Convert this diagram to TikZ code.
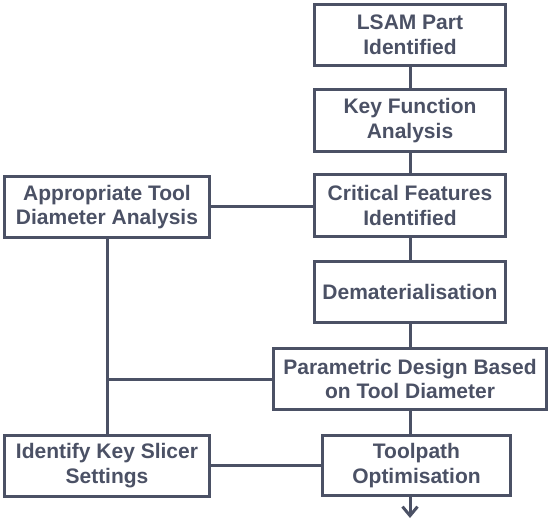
\documentclass[tikz,border=0pt]{standalone}
\usepackage{fontspec}
\setmainfont{Liberation Sans}
\usetikzlibrary{arrows.meta}
\definecolor{slate}{HTML}{4B5165}
\begin{document}
\begin{tikzpicture}[x=1pt,y=-1pt,
  box/.style={draw=slate,line width=3pt,fill=white,text=slate,inner sep=0pt,
    align=center,font=\fontsize{21}{24.5}\selectfont\bfseries},
  conn/.style={draw=slate,line width=3pt}]
\useasboundingbox (0,0) rectangle (551,521);
\node[box,minimum width=191,minimum height=61] (b1) at (410,35) {LSAM Part\\Identified};
\node[box,minimum width=191,minimum height=62] (b2) at (410,120.5) {Key Function\\Analysis};
\node[box,minimum width=191,minimum height=62] (b3) at (410,205.5) {Critical Features\\Identified};
\node[box,minimum width=191,minimum height=61] (b4) at (410,292) {Dematerialisation};
\node[box,minimum width=273,minimum height=61] (b5) at (410,379) {Parametric Design Based\\on Tool Diameter};
\node[box,minimum width=188,minimum height=60] (b6) at (416.5,465.5) {Toolpath\\Optimisation};
\node[box,minimum width=205,minimum height=61] (a) at (107,207) {Appropriate Tool\\Diameter Analysis};
\node[box,minimum width=205,minimum height=61] (b) at (107,465.5) {Identify Key Slicer\\Settings};
\coordinate (j) at (107,379);
\coordinate (end) at (410,518);
\draw[conn] (b1) -- (b2);
\draw[conn] (b2) -- (b3);
\draw[conn] (b3) -- (b4);
\draw[conn] (b4) -- (b5);
\draw[conn] (b5.south) -- (b5.south |- b6.north);
\draw[conn] (a.east) -- (a.east -| b3.west);
\draw[conn] (a.south) -- (b.north);
\draw[conn] (j) -- (b5.west);
\draw[conn] (b.east) -- (b.east -| b6.west);
\draw[conn,-{Straight Barb[length=9pt,width=15pt,line width=3pt]}] (end |- b6.south) -- (end);
\end{tikzpicture}
\end{document}
